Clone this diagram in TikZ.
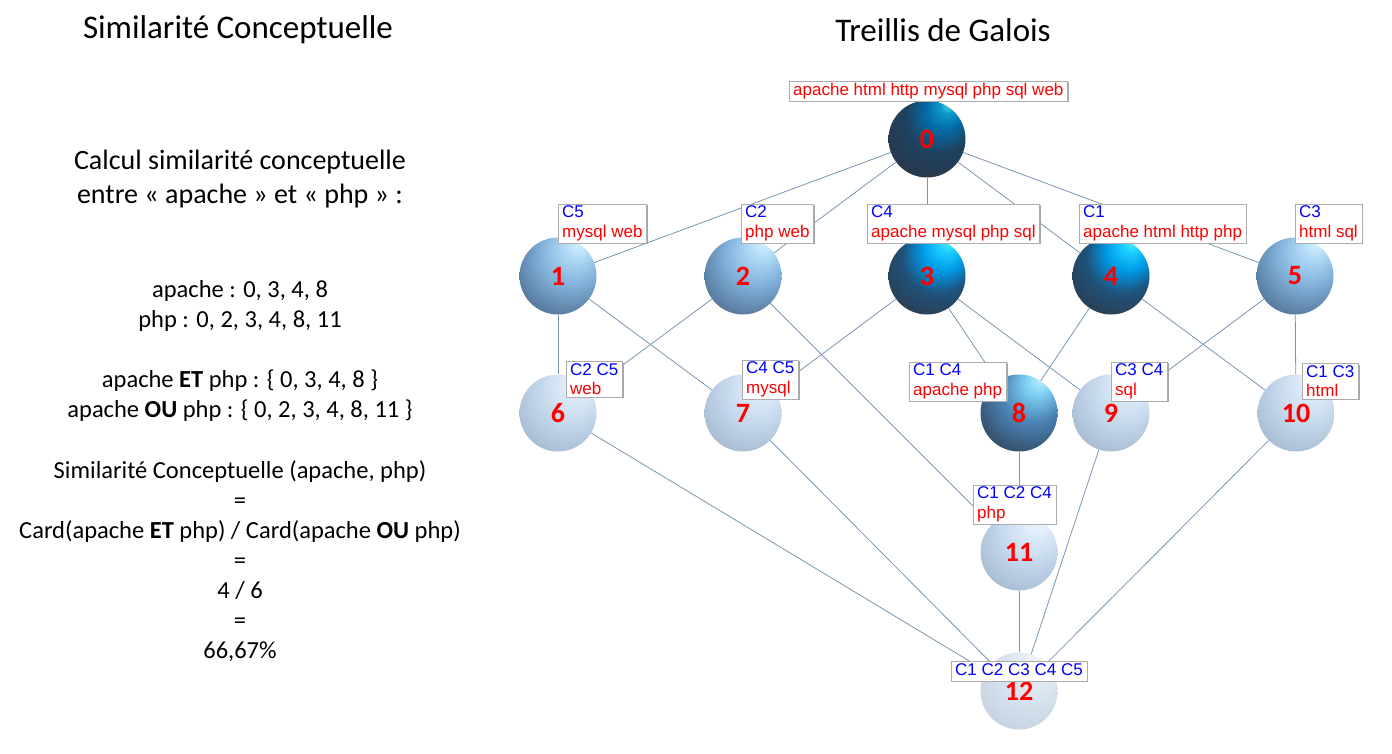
\documentclass[tikz,border=0pt]{standalone}
\usepackage{fontspec}
\setmainfont{Carlito}
\newfontfamily\arialfont{Liberation Sans}
\usetikzlibrary{shadows}

\definecolor{linkcol}{RGB}{120,150,180}

% sphere shadings, light from the upper right
\pgfdeclareradialshading{darkball}{\pgfpoint{15bp}{24bp}}{rgb(0bp)=(.4,.9,.9); rgb(5bp)=(.05,.6,.8); rgb(12bp)=(.02,.42,.66); rgb(22bp)=(.12,.26,.38); rgb(35bp)=(.16,.22,.29); rgb(50bp)=(.1,.14,.2)}
\pgfdeclareradialshading{blueball}{\pgfpoint{15bp}{24bp}}{rgb(0bp)=(.35,.95,1); rgb(6bp)=(.1,.8,1); rgb(14bp)=(0,.6,.9); rgb(24bp)=(.12,.32,.48); rgb(36bp)=(.17,.24,.31); rgb(50bp)=(.12,.17,.22)}
\pgfdeclareradialshading{midball}{\pgfpoint{15bp}{24bp}}{rgb(0bp)=(.88,.96,1); rgb(8bp)=(.7,.86,.97); rgb(20bp)=(.51,.7,.86); rgb(35bp)=(.33,.46,.6); rgb(50bp)=(.23,.31,.4)}
\pgfdeclareradialshading{eightball}{\pgfpoint{15bp}{24bp}}{rgb(0bp)=(.78,.96,1); rgb(8bp)=(.5,.82,.96); rgb(20bp)=(.3,.52,.72); rgb(35bp)=(.2,.3,.4); rgb(50bp)=(.14,.2,.26)}
\pgfdeclareradialshading{paleball}{\pgfpoint{15bp}{24bp}}{rgb(0bp)=(.96,.98,1); rgb(8bp)=(.88,.93,.98); rgb(22bp)=(.76,.84,.92); rgb(38bp)=(.63,.71,.8); rgb(50bp)=(.51,.59,.69)}
\pgfdeclareradialshading{palerball}{\pgfpoint{15bp}{24bp}}{rgb(0bp)=(.96,.97,.99); rgb(10bp)=(.9,.93,.96); rgb(25bp)=(.82,.87,.92); rgb(40bp)=(.75,.8,.85); rgb(50bp)=(.67,.73,.78)}

\begin{document}
\begin{tikzpicture}[x=1pt, y=-1pt,
    sphere/.style={circle, minimum size=77pt, inner sep=0pt, shading=#1,
    text=red, font=\bfseries\fontsize{28}{28}\selectfont},
    extent/.style={anchor=south west, draw=gray!65, fill=white, align=left,
    inner xsep=4pt, inner ysep=2pt, font=\arialfont\fontsize{17}{19.5}\selectfont,
    drop shadow={shadow xshift=1.5pt, shadow yshift=-1.5pt, fill=gray!70, opacity=1}},
    link/.style={draw=linkcol, line width=0.8pt},
    body/.style={align=center, font=\fontsize{24.5}{30}\selectfont}
    ]
\useasboundingbox (0,0) rectangle (1392,754);
% left text
\node[font=\fontsize{33}{38}\selectfont] (T1) at (238,30) {Similarité Conceptuelle};
\node[font=\fontsize{33}{38}\selectfont] (T2) at (943,30) {Treillis de Galois};
\node[align=center, font=\fontsize{28}{34}\selectfont] (calc) at (240,179) {Calcul similarité conceptuelle\\entre « apache » et « php » :};
\node[body] (ext) at (240,306) {apache : 0, 3, 4, 8\\php : 0, 2, 3, 4, 8, 11};
\node[body] (sets) at (240,396) {apache \textbf{ET} php : \{ 0, 3, 4, 8 \}\\apache \textbf{OU} php : \{ 0, 2, 3, 4, 8, 11 \}};
\node[body] (res) at (240,561) {Similarité Conceptuelle (apache, php)\\=\\Card(apache \textbf{ET} php) / Card(apache \textbf{OU} php)\\=\\4 / 6\\=\\66,67\%};
% lattice
\node[sphere=darkball] (n0) at (927,139) {0};
\node[sphere=midball] (n1) at (558,276) {1};
\node[sphere=midball] (n2) at (743,276) {2};
\node[sphere=blueball] (n3) at (927,276) {3};
\node[sphere=blueball] (n4) at (1111,276) {4};
\node[sphere=midball] (n5) at (1295,276) {5};
\node[sphere=paleball] (n6) at (558,413) {6};
\node[sphere=paleball] (n7) at (743,413) {7};
\node[sphere=eightball] (n8) at (1019,413) {8};
\node[sphere=paleball] (n9) at (1111,413) {9};
\node[sphere=paleball] (n10) at (1296,413) {10};
\node[sphere=paleball] (n11) at (1019,552) {11};
\node[sphere=palerball] (n12) at (1019,691) {12};
\draw[link] (n0) -- (n1);
\draw[link] (n0) -- (n2);
\draw[link] (n0) -- (n3);
\draw[link] (n0) -- (n4);
\draw[link] (n0) -- (n5);
\draw[link] (n1) -- (n6);
\draw[link] (n1) -- (n7);
\draw[link] (n2) -- (n6);
\draw[link] (n2) -- (n11);
\draw[link] (n3) -- (n7);
\draw[link] (n3) -- (n8);
\draw[link] (n3) -- (n9);
\draw[link] (n4) -- (n8);
\draw[link] (n4) -- (n10);
\draw[link] (n5) -- (n9);
\draw[link] (n5) -- (n10);
\draw[link] (n6) -- (n12);
\draw[link] (n7) -- (n12);
\draw[link] (n8) -- (n11);
\draw[link] (n9) -- (n12);
\draw[link] (n10) -- (n12);
\draw[link] (n11) -- (n12);
% concept labels
\node[extent] (e0) at (789,101) {\textcolor{red}{apache html http mysql php sql web}};
\node[extent] (e1) at (558,243) {\textcolor{blue}{C5}\\\textcolor{red}{mysql web}};
\node[extent] (e2) at (741,243) {\textcolor{blue}{C2}\\\textcolor{red}{php web}};
\node[extent] (e3) at (867,243) {\textcolor{blue}{C4}\\\textcolor{red}{apache mysql php sql}};
\node[extent] (e4) at (1079,243) {\textcolor{blue}{C1}\\\textcolor{red}{apache html http php}};
\node[extent] (e5) at (1295,243) {\textcolor{blue}{C3}\\\textcolor{red}{html sql}};
\node[extent] (e6) at (566,397) {\textcolor{blue}{C2 C5}\\\textcolor{red}{web}};
\node[extent] (e7) at (742,399) {\textcolor{blue}{C4 C5}\\\textcolor{red}{mysql}};
\node[extent] (e8) at (909,401) {\textcolor{blue}{C1 C4}\\\textcolor{red}{apache php}};
\node[extent] (e9) at (1111,401) {\textcolor{blue}{C3 C4}\\\textcolor{red}{sql}};
\node[extent] (e10) at (1302,399) {\textcolor{blue}{C1 C3}\\\textcolor{red}{html}};
\node[extent] (e11) at (973,524) {\textcolor{blue}{C1 C2 C4}\\\textcolor{red}{php}};
\node[extent, text depth=3.5pt] (e12) at (951,681) {\textcolor{blue}{C1 C2 C3 C4 C5}};
\end{tikzpicture}
\end{document}
